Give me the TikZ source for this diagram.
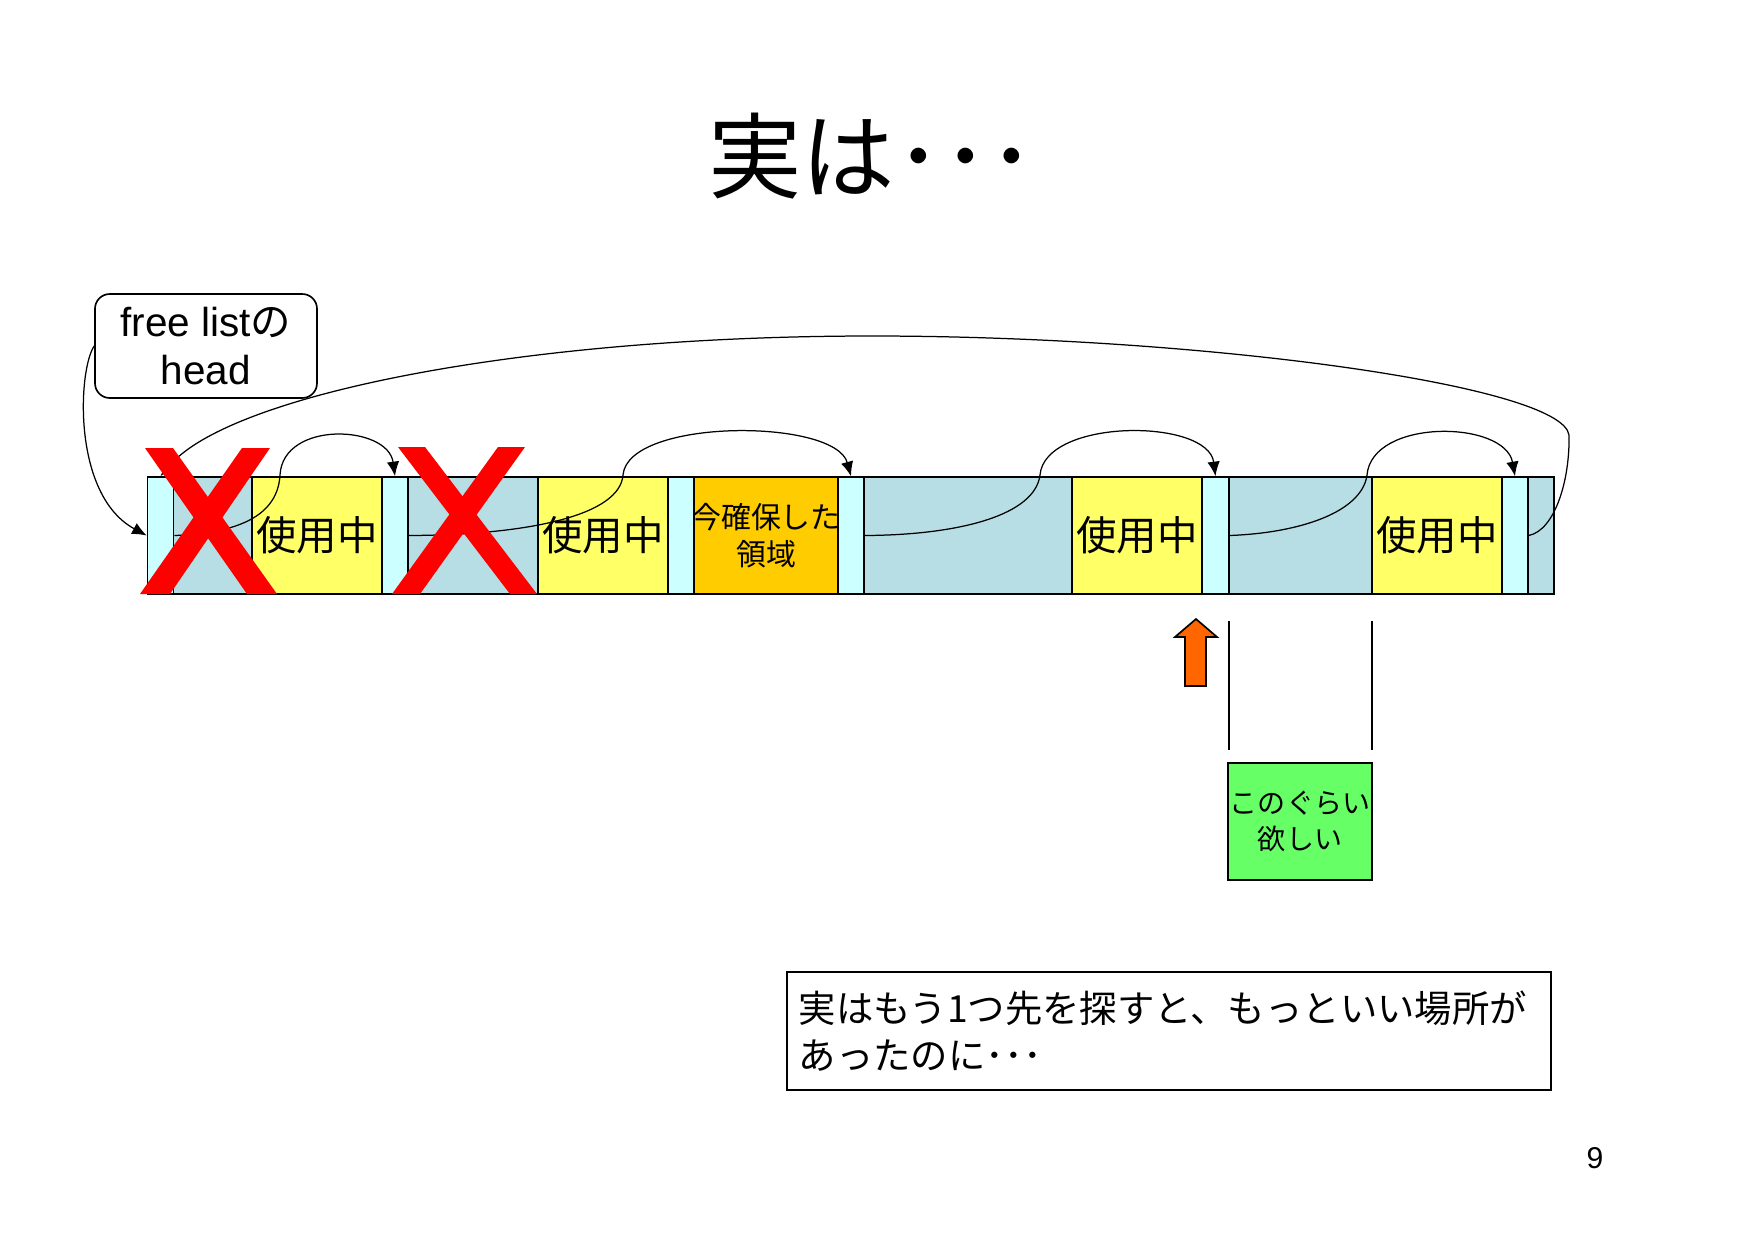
\documentclass[tikz,border=0pt]{standalone}
\usepackage{fontspec}
\setmainfont{Liberation Sans}
\newfontfamily\jp{Noto Sans CJK JP}
\usepackage{xcolor}
\usetikzlibrary{arrows.meta}

\definecolor{freecol}{RGB}{183,222,228}
\definecolor{hdrcol}{RGB}{204,255,255}
\definecolor{usedcol}{RGB}{255,255,102}
\definecolor{alloccol}{RGB}{255,204,0}
\definecolor{wantcol}{RGB}{102,255,102}
\definecolor{upcol}{RGB}{255,102,0}
\newcommand{\pxu}{0.16933mm}

\begin{document}
\begin{tikzpicture}[x=0.16933mm, y=-0.16933mm,
    blk/.style={draw, line width=0.8pt, inner sep=0pt, minimum height=117*\pxu},
    hdr/.style={blk, fill=hdrcol, minimum width=26*\pxu},
    freeblk/.style={blk, fill=freecol},
    usedblk/.style={blk, fill=usedcol, minimum width=130*\pxu, font=\jp\fontsize{19.5}{23}\selectfont},
    ptr/.style={line width=0.6pt, -{Latex[length=7pt,width=6pt]}},
    cross/.style={fill=red}]
    \useasboundingbox (0,0) rectangle (1754,1240);

    % Title
    \node[font=\jp\fontsize{45}{50}\selectfont] (title) at (872,156) {実は･･･};

    % free list head
    \node[draw, line width=0.8pt, rounded corners=2.5mm, minimum width=222*\pxu, minimum height=104*\pxu,
          align=center, font=\fontsize{19.5}{23}\selectfont] (head) at (206,346) {free list{\jp の}\\head};

    % Memory bar - block bodies
    \node[freeblk, minimum width=79*\pxu] (fA) at (212.5,535.5) {};
    \node[usedblk] (uA) at (317,535.5) {使用中};
    \node[freeblk, minimum width=130*\pxu] (fB) at (473,535.5) {};
    \node[usedblk] (uB) at (603,535.5) {使用中};
    \node[blk, fill=alloccol, minimum width=144*\pxu] (alloc) at (766,535.5) {};
    \node[inner sep=0pt, align=center, font=\jp\fontsize{14.4}{18}\selectfont] (allocText) at (alloc.center) {今確保した\\領域};
    \node[freeblk, minimum width=208*\pxu] (fD) at (968,535.5) {};
    \node[usedblk] (uD) at (1137,535.5) {使用中};
    \node[freeblk, minimum width=143*\pxu] (fE) at (1300.5,535.5) {};
    \node[usedblk] (uE) at (1437,535.5) {使用中};
    \node[freeblk, minimum width=26*\pxu] (fF) at (1541,535.5) {};

    % Memory bar - headers
    \node[hdr] (hA) at (160.5,535.5) {};
    \node[hdr] (hB) at (395,535.5) {};
    \node[hdr] (hC) at (681,535.5) {};
    \node[hdr] (hD) at (851,535.5) {};
    \node[hdr] (hE) at (1215.5,535.5) {};
    \node[hdr] (hF) at (1515,535.5) {};

    % free list pointers
    \draw[ptr] (head.west) .. controls (78,370) and (72,495) .. (hA.west);
    \draw[ptr] (hA.east) .. controls (245,533) and (278,512) .. (280,475) .. controls (283,420) and (388,425) .. (hB.north);
    \draw[ptr] (hB.east) .. controls (530,535) and (620,515) .. (623,475) .. controls (628,418) and (835,418) .. (hD.north);
    \draw[ptr] (hD.east) .. controls (960,535) and (1035,515) .. (1040,475) .. controls (1045,418) and (1208,418) .. (hE.north);
    \draw[ptr] (hE.east) .. controls (1300,533) and (1362,512) .. (1367,475) .. controls (1372,418) and (1505,420) .. (hF.north);
    \draw[ptr] (hF.east) .. controls (1555,530) and (1570,480) .. (1569,435)
        .. controls (1562,385) and (1200,336) .. (872,336)
        .. controls (520,336) and (230,395) .. (hA.north);

    % Red crosses
    \fill[cross] (145,448) -- (173,448) -- (277,594) -- (247,594) -- cycle;
    \fill[cross] (242,448) -- (270,448) -- (170,594) -- (140,594) -- cycle;
    \fill[cross] (398,447) -- (425,447) -- (537,594) -- (510,594) -- cycle;
    \fill[cross] (498,447) -- (525,447) -- (420,594) -- (392,594) -- cycle;

    % Orange up arrow
    \draw[fill=upcol, line width=0.8pt] (1185,686) -- (1185,637) -- (1175,637) -- (1196,619)
        -- (1217,637) -- (1206,637) -- (1206,686) -- cycle;

    % Wanted size
    \draw[line width=0.8pt] (1229,621) -- (1229,750);
    \draw[line width=0.8pt] (1372,621) -- (1372,750);
    \node[draw, fill=wantcol, line width=0.8pt, inner sep=0pt, minimum width=144*\pxu, minimum height=117*\pxu,
          align=center, font=\jp\fontsize{13.5}{17}\selectfont] (want) at (1300,821.5) {このぐらい\\欲しい};

    % Note
    \node[draw, line width=0.8pt, anchor=west, minimum height=118*\pxu, text width=740*\pxu, inner xsep=12*\pxu,
          align=left, font=\jp\fontsize{18}{23}\selectfont] (note) at (786,1031) {実はもう1つ先を探すと、もっといい場所が\\あったのに･･･};

    % Page number
    \node[font=\fontsize{14.5}{17}\selectfont] (pageno) at (1595,1158) {9};
\end{tikzpicture}
\end{document}
